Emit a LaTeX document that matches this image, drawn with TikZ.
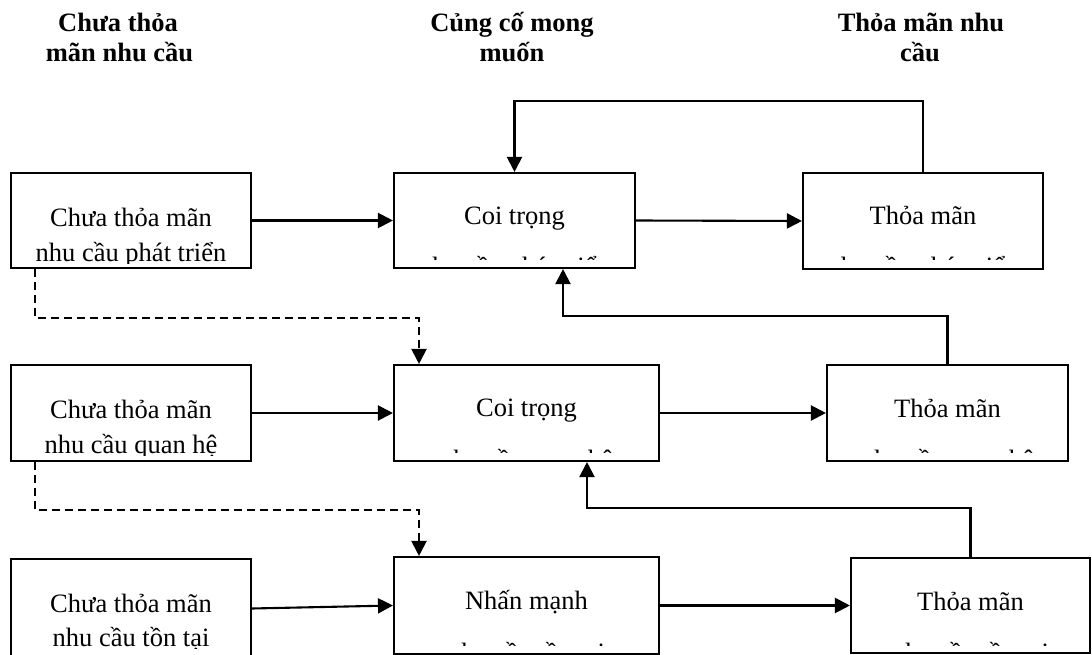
\documentclass[tikz,border=0pt]{standalone}
\usepackage{fontspec}
\setmainfont{Liberation Serif}
\usetikzlibrary{arrows.meta}

\begin{document}
\begin{tikzpicture}[x=1pt,y=-1pt,
  blk/.style={draw, line width=2.1pt, inner sep=0pt},
  txt/.style={anchor=base, inner sep=0pt, font=\fontsize{26.5}{30}\selectfont},
  head/.style={anchor=base, inner sep=0pt, font=\fontsize{26.5}{30}\selectfont\bfseries},
  arr/.style={line width=2.1pt, -{Triangle[length=15pt,width=15pt]}},
  darr/.style={arr, dash pattern=on 8pt off 5pt}
]
\useasboundingbox (0,0) rectangle (1092,655);
\clip (0,0) rectangle (1092,655);

% column headings
\node[head] (h1a) at (118,32) {Chưa thỏa};
\node[head] (h1b) at (119.5,62) {mãn nhu cầu};
\node[head] (h2a) at (512,32) {Củng cố mong};
\node[head] (h2b) at (512,62) {muốn};
\node[head] (h3a) at (921,32) {Thỏa mãn nhu};
\node[head] (h3b) at (920,62) {cầu};

% boxes
\node[blk, minimum width=240pt, minimum height=95pt]  (l1) at (131,220.5) {};
\node[blk, minimum width=240pt, minimum height=96pt]  (l2) at (131,413) {};
\node[blk, minimum width=240pt, minimum height=99pt]  (l3) at (131,608.5) {};
\node[blk, minimum width=241pt, minimum height=95pt]  (m1) at (514.5,220.5) {};
\node[blk, minimum width=265pt, minimum height=96pt]  (m2) at (526.5,413) {};
\node[blk, minimum width=265pt, minimum height=97pt]  (m3) at (526.5,605.5) {};
\node[blk, minimum width=240pt, minimum height=96pt]  (r1) at (923,221) {};
\node[blk, minimum width=241pt, minimum height=96pt]  (r2) at (947.5,413) {};
\node[blk, minimum width=239pt, minimum height=95pt]  (r3) at (970.5,605.5) {};

% left column texts
\node[txt] (l1a) at (131,226) {Chưa thỏa mãn};
\begin{scope}
  \clip (12,174) rectangle (250,263);
  \node[txt] (l1b) at (131,261) {nhu cầu phát triển};
\end{scope}
\node[txt] (l2a) at (131,418) {Chưa thỏa mãn};
\begin{scope}
  \clip (12,366) rectangle (250,455);
  \node[txt] (l2b) at (131,453) {nhu cầu quan hệ};
\end{scope}
\node[txt] (l3a) at (131,612) {Chưa thỏa mãn};
\begin{scope}
  \clip (12,560) rectangle (250,648);
  \node[txt] (l3b) at (131,646) {nhu cầu tồn tại};
\end{scope}

% middle column texts
\node[txt] (m1a) at (514.5,225) {Coi trọng};
\begin{scope}
  \clip (395,174) rectangle (634,259);
  \node[txt] (m1b) at (514.5,275) {nhu cầu phát triển};
\end{scope}
\node[txt] (m2a) at (526.5,416) {Coi trọng};
\begin{scope}
  \clip (395,366) rectangle (658,452);
  \node[txt] (m2b) at (526.5,468) {nhu cầu quan hệ};
\end{scope}
\node[txt] (m3a) at (526.5,609) {Nhấn mạnh};
\begin{scope}
  \clip (395,558) rectangle (658,645);
  \node[txt] (m3b) at (526.5,661) {nhu cầu tồn tại};
\end{scope}

% right column texts
\node[txt] (r1a) at (923,225) {Thỏa mãn};
\begin{scope}
  \clip (804,174) rectangle (1042,259);
  \node[txt] (r1b) at (923,275) {nhu cầu phát triển};
\end{scope}
\node[txt] (r2a) at (947.5,417) {Thỏa mãn};
\begin{scope}
  \clip (828,366) rectangle (1067,452);
  \node[txt] (r2b) at (947.5,468) {nhu cầu quan hệ};
\end{scope}
\node[txt] (r3a) at (970.5,610) {Thỏa mãn};
\begin{scope}
  \clip (852,559) rectangle (1089,645);
  \node[txt] (r3b) at (970.5,661) {nhu cầu tồn tại};
\end{scope}

% forward arrows
\draw[arr] (l1.east) -- (m1.west);
\draw[arr] (m1.east) -- (r1.west);
\draw[arr] (l2.east) -- (m2.west);
\draw[arr] (m2.east) -- (r2.west);
\draw[arr] (l3.east) -- (m3.west);
\draw[arr] (m3.east) -- (r3.west);

% feedback loops
\draw[arr] (r1.north) -- ++(0,-71) -| (m1.north);
\draw[arr] (r2.north) -- ++(0,-48) -| ([xshift=48.5pt]m1.south);
\draw[arr] (r3.north) -- ++(0,-49) -| ([xshift=60.5pt]m2.south);

% dashed links between levels
\draw[darr] ([xshift=-96pt]l1.south) -- ++(0,49) -| ([xshift=-107.5pt]m2.north);
\draw[darr] ([xshift=-96pt]l2.south) -- ++(0,48) -| ([xshift=-107.5pt]m3.north);
\end{tikzpicture}
\end{document}
